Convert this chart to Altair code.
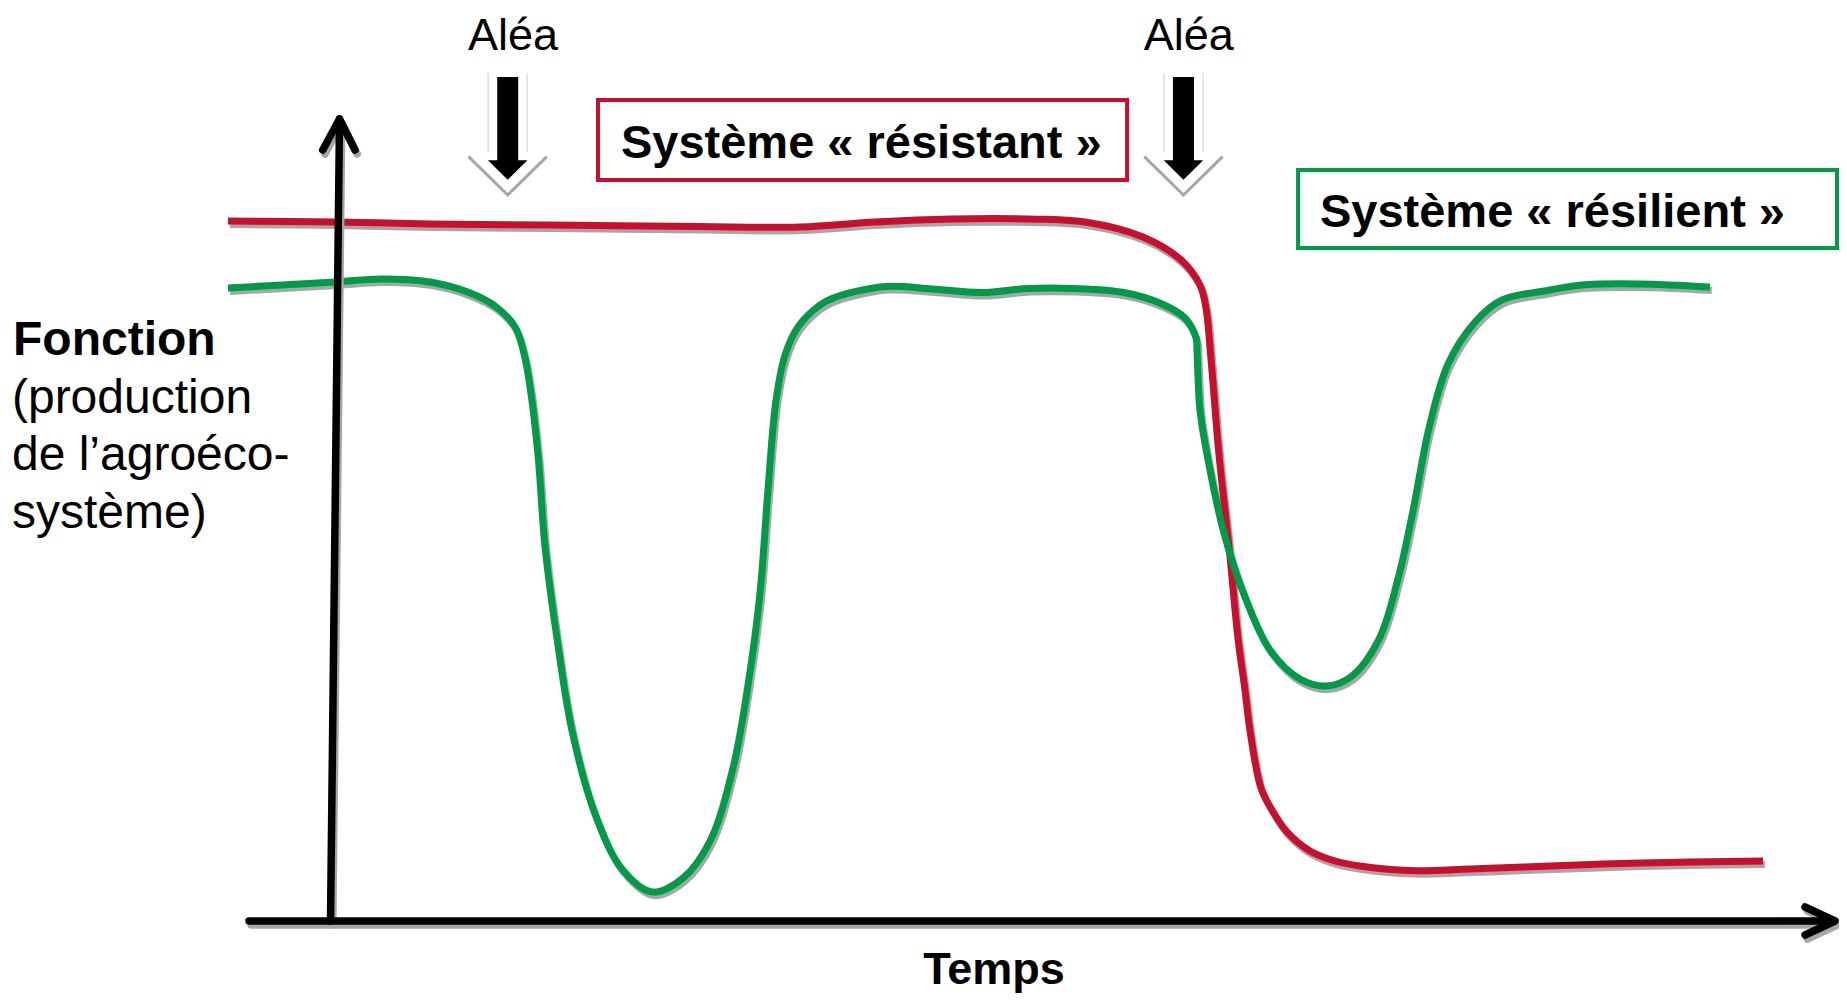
import altair as alt
import pandas as pd

# ---------------- data (time / function in arbitrary units) ----------------
red_t = [-6.87, 0.27, 6.6, 14.6, 24.6, 31.27, 36.27, 41.33, 46.47, 50.27, 54.13, 56.67,
         57.93, 58.33, 58.67, 59.2, 59.87, 60.47, 60.93, 61.27, 62.0, 62.73, 63.73, 65.27,
         66.93, 68.6, 71.93, 75.93, 79.53, 87.27, 95.47]
red_f = [87.5, 87.38, 87.13, 87.0, 86.81, 86.75, 87.38, 87.75, 87.75, 87.38, 85.5, 82.63,
         79.5, 76.63, 70.13, 58.25, 46.75, 35.25, 28.88, 23.75, 16.6, 13.88, 11.13, 8.75,
         7.5, 6.88, 6.31, 6.5, 6.75, 7.25, 7.5]

green_t = [-6.87, 0.27, 3.33, 6.6, 9.2, 10.93, 12.27, 12.87, 13.27, 13.8, 14.27, 15.07,
           16.07, 17.6, 19.4, 21.4, 23.47, 25.27, 26.8, 27.8, 28.6, 29.13, 29.67, 30.27,
           31.13, 32.6, 33.67, 37.0, 40.07, 43.4, 46.47, 49.53, 52.87, 55.4, 56.93, 57.67,
           57.73, 57.93, 58.47, 59.53, 60.93, 62.6, 64.6, 66.4, 68.07, 69.87, 71.13, 72.13,
           73.2, 74.47, 76.27, 78.07, 80.87, 83.4, 87.2, 91.93]
green_f = [79.13, 79.88, 80.25, 79.88, 78.56, 76.88, 74.25, 70.88, 66.75, 58.25, 46.75, 35.25,
           23.75, 13.38, 6.5, 3.63, 5.38, 10.0, 19.13, 29.5, 41.0, 53.88, 65.13, 70.75,
           74.25, 77.0, 78.0, 79.31, 79.0, 78.56, 79.06, 79.06, 78.56, 77.13, 75.38, 72.88,
           71.38, 63.88, 57.63, 48.5, 40.5, 33.88, 30.25, 29.38, 30.63, 35.25, 42.75, 51.25,
           61.63, 69.63, 74.88, 77.63, 78.75, 79.5, 79.63, 79.25]

alea_t = [11.78, 56.83]          # moments of the two hazards
alea_labels = ["Aléa", "Aléa"]

series_labels = ["Système « résistant »", "Système « résilient »"]
y_title_bold = "Fonction"
y_title_lines = ["(production", "de l’agroéco-", "système)"]
x_title = "Temps"

RED = "#C8102E"
GREEN = "#009B48"
SHADOW = "#A6A6A6"
FONT = "Liberation Sans"

# ---------------- scales ----------------
xs = alt.Scale(domain=[-21.5333, 100.5333], nice=False, zero=False)
ys = alt.Scale(domain=[-9.0, 114.125], nice=False, zero=False)


def X(field="t"):
    return alt.X(f"{field}:Q", scale=xs, axis=None)


def Y(field="f"):
    return alt.Y(f"{field}:Q", scale=ys, axis=None)


red_df = pd.DataFrame({"t": red_t, "f": red_f})
green_df = pd.DataFrame({"t": green_t, "f": green_f})


def curve(df, color, shadow=False):
    base = alt.Chart(df)
    if shadow:
        return base.transform_calculate(
            ts="datum.t + 0.12", fs="datum.f - 0.45"
        ).mark_line(color=SHADOW, strokeWidth=7, interpolate="catmull-rom").encode(
            x=X("ts"), y=Y("fs"))
    return base.mark_line(color=color, strokeWidth=7, interpolate="catmull-rom").encode(
        x=X(), y=Y())


# ---------------- axes with arrowheads ----------------
axis_rows = []
for pid, pts in enumerate([
    [(-0.033, 0.0), (0.567, 100.25)],                       # y shaft
    [(-0.553, 96.375), (0.567, 100.25), (1.6, 96.375)],     # y head
    [(-5.467, 0.0), (100.2, 0.0)],                          # x shaft
    [(98.27, 1.75), (100.27, 0.0), (98.27, -1.75)],         # x head
]):
    for k, (t, f) in enumerate(pts):
        axis_rows.append({"id": pid, "k": k, "t": t, "f": f})
axis_df = pd.DataFrame(axis_rows)

axes_shadow = alt.Chart(axis_df).transform_calculate(
    ts="datum.t + 0.15", fs="datum.f - 0.5"
).mark_line(color=SHADOW, strokeWidth=7.5, strokeCap="round", strokeJoin="round").encode(
    x=X("ts"), y=Y("fs"), detail="id:N", order="k:Q")
axes = alt.Chart(axis_df).mark_line(
    color="black", strokeWidth=7.5, strokeCap="round", strokeJoin="round").encode(
    x=X(), y=Y(), detail="id:N", order="k:Q")

# ---------------- hazard arrows ----------------
shaft_rows, head_rows, chev_rows, side_rows, lab_rows = [], [], [], [], []
for i, (c, lab) in enumerate(zip(alea_t, alea_labels)):
    shaft_rows.append({"t": c - 0.7, "t2": c + 0.7, "f": 105.5, "f2": 94.9})
    head_rows.append({"t": c, "f": 93.875})
    for k, (dt, f) in enumerate([(-2.61, 95.54), (0.0, 90.75), (2.61, 95.54)]):
        chev_rows.append({"id": i, "k": k, "t": c + dt, "f": f})
    for dt in (-1.3, 1.3):
        side_rows.append({"t": c + dt, "f": 106.0, "f2": 96.1})
    lab_rows.append({"t": c + 0.35, "f": 108.9, "label": lab})

chev = alt.Chart(pd.DataFrame(chev_rows)).mark_line(
    color=SHADOW, strokeWidth=3, strokeJoin="miter").encode(
    x=X(), y=Y(), detail="id:N", order="k:Q")
sides = alt.Chart(pd.DataFrame(side_rows)).mark_rule(
    color="#DDDDDD", strokeWidth=1.5).encode(x=X(), y=Y(), y2=alt.Y2("f2:Q"))
shafts = alt.Chart(pd.DataFrame(shaft_rows)).mark_rect(color="black").encode(
    x=X(), x2=alt.X2("t2:Q"), y=Y(), y2=alt.Y2("f2:Q"))
heads = alt.Chart(pd.DataFrame(head_rows)).mark_point(
    shape="M-1,-0.5L1,-0.5L0,0.5Z", size=1560, filled=True, color="black",
    opacity=1, strokeWidth=0).encode(x=X(), y=Y())
alea_text = alt.Chart(pd.DataFrame(lab_rows)).mark_text(
    font=FONT, fontSize=45, align="center", baseline="alphabetic", color="black").encode(
    x=X(), y=Y(), text="label:N")

# ---------------- legend boxes ----------------
box_df = pd.DataFrame([
    {"t": 17.8, "t2": 53.07, "f": 102.625, "f2": 92.625, "s": series_labels[0]},
    {"t": 64.47, "t2": 100.4, "f": 93.875, "f2": 84.125, "s": series_labels[1]},
])
box_color = alt.Color("s:N", scale=alt.Scale(domain=series_labels, range=[RED, GREEN]),
                      legend=None)
boxes = alt.Chart(box_df).mark_rect(fill="white", strokeWidth=4).encode(
    x=X(), x2=alt.X2("t2:Q"), y=Y(), y2=alt.Y2("f2:Q"), stroke=box_color)
box_text = alt.Chart(pd.DataFrame([
    {"t": 19.33, "f": 95.375, "label": series_labels[0]},
    {"t": 65.93, "f": 86.75, "label": series_labels[1]},
])).mark_text(font=FONT, fontSize=47, fontWeight="bold", align="left",
              baseline="alphabetic", color="black").encode(x=X(), y=Y(), text="label:N")

# ---------------- axis titles ----------------
ytitle_bold = alt.Chart(pd.DataFrame([{"t": -21.2, "f": 70.75, "label": y_title_bold}])
                        ).mark_text(font=FONT, fontSize=48, fontWeight="bold", align="left",
                                    baseline="alphabetic", color="black").encode(
    x=X(), y=Y(), text="label:N")
ytitle_rest = alt.Chart(pd.DataFrame([
    {"t": -21.27, "f": ff, "label": l} for ff, l in zip([63.5, 56.375, 49.125], y_title_lines)
])).mark_text(font=FONT, fontSize=48, align="left", baseline="alphabetic",
              color="black").encode(x=X(), y=Y(), text="label:N")
xtitle = alt.Chart(pd.DataFrame([{"t": 44.2, "f": -7.9, "label": x_title}])).mark_text(
    font=FONT, fontSize=45, fontWeight="bold", align="center", baseline="alphabetic",
    color="black").encode(x=X(), y=Y(), text="label:N")

chart = alt.layer(
    curve(red_df, RED, shadow=True),
    curve(green_df, GREEN, shadow=True),
    curve(red_df, RED),
    curve(green_df, GREEN),
    axes_shadow, axes,
    sides, chev, shafts, heads, alea_text,
    boxes, box_text,
    ytitle_bold, ytitle_rest, xtitle,
).properties(
    width=1831, height=985, padding=0,
    autosize=alt.AutoSizeParams(type="none"),
    background="white",
).configure_view(stroke=None)

chart.save("out.html", embed_options={"renderer": "svg", "actions": False})
